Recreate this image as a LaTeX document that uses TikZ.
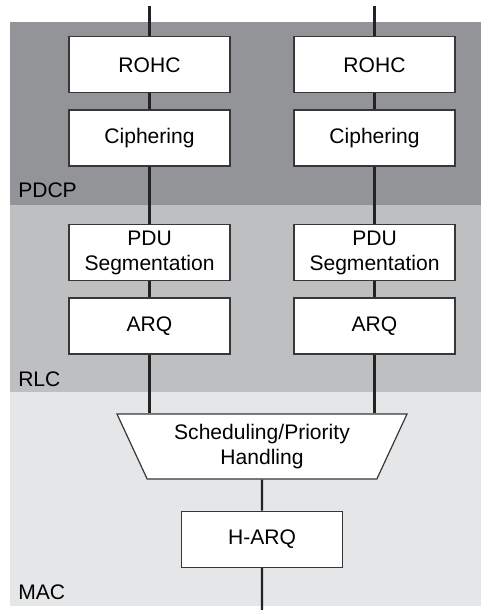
\documentclass[tikz,border=0pt]{standalone}
\usepackage{fontspec}
\setmainfont{Liberation Sans}
\usetikzlibrary{shapes.geometric, positioning}
\definecolor{pdcpgray}{RGB}{147,148,152}
\definecolor{rlcgray}{RGB}{190,191,193}
\definecolor{macgray}{RGB}{229,230,232}
\definecolor{boxline}{RGB}{55,55,55}
\definecolor{wireline}{RGB}{35,35,35}
\newcommand{\diagfont}{\fontsize{15.8}{18.8}\selectfont}
\tikzset{
  % Protocol function block
  funcblock/.style={
    rectangle, draw=boxline, fill=white, line width=1.1pt,
    minimum width=120.75pt, minimum height=42pt, inner sep=0pt,
    align=center, font=\diagfont
  },
  % Scheduler (wide side on top)
  schedblock/.style={
    trapezium, trapezium angle=56, shape border rotate=180,
    trapezium stretches body, draw=boxline, fill=white, line width=0.9pt,
    minimum width=217.5pt, minimum height=48.75pt, inner sep=0pt,
    align=center, font=\diagfont
  },
  layerband/.style={fill=#1, draw=none},
  layerlabel/.style={anchor=base west, inner sep=0pt, font=\diagfont},
  wire/.style={line width=1.7pt, draw=wireline}
}

\begin{document}
\begin{tikzpicture}[x=0.75pt, y=-0.75pt]
  \useasboundingbox (0,0) rectangle (481,610);

  % Layer bands
  \fill[layerband=pdcpgray] (10,22) rectangle (481,205);
  \fill[layerband=rlcgray] (10,205) rectangle (481,392);
  \fill[layerband=macgray] (10,392) rectangle (481,606);

  \node[layerlabel] (pdcp) at (18,197) {PDCP};
  \node[layerlabel] (rlc) at (18,386) {RLC};
  \node[layerlabel] (mac) at (18,599) {MAC};

  % Left radio bearer
  \node[funcblock] (rohcL) at (149.5,64.75) {ROHC};
  \node[funcblock, below=12pt of rohcL] (ciphL) {Ciphering};
  \node[funcblock, below=42.75pt of ciphL] (segL) {PDU\\Segmentation};
  \node[funcblock, below=12pt of segL] (arqL) {ARQ};

  % Right radio bearer
  \node[funcblock] (rohcR) at (374.5,64.75) {ROHC};
  \node[funcblock, below=12pt of rohcR] (ciphR) {Ciphering};
  \node[funcblock, below=42.75pt of ciphR] (segR) {PDU\\Segmentation};
  \node[funcblock, below=12pt of segR] (arqR) {ARQ};

  % MAC
  \node[schedblock] (sched) at (262,446.5) {Scheduling/Priority\\Handling};
  \node[funcblock, below=23.25pt of sched] (harq) {H-ARQ};

  \coordinate (inL) at (149.5,6);
  \coordinate (inR) at (374.5,6);
  \coordinate (out) at (262,610);

  % Connections
  \draw[wire] (inL) -- (rohcL);
  \draw[wire] (rohcL) -- (ciphL);
  \draw[wire] (ciphL) -- (segL);
  \draw[wire] (segL) -- (arqL);
  \draw[wire] (arqL) -- (arqL.south |- sched.north);
  \draw[wire] (inR) -- (rohcR);
  \draw[wire] (rohcR) -- (ciphR);
  \draw[wire] (ciphR) -- (segR);
  \draw[wire] (segR) -- (arqR);
  \draw[wire] (arqR) -- (arqR.south |- sched.north);
  \draw[wire] (sched) -- (harq);
  \draw[wire] (harq) -- (out);
\end{tikzpicture}
\end{document}
